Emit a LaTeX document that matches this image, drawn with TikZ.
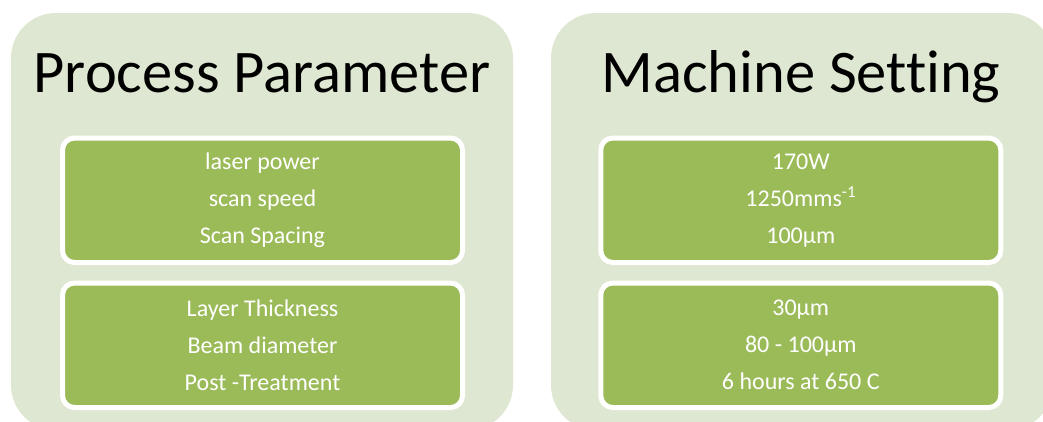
\documentclass[tikz,border=0pt]{standalone}
\usepackage{fontspec}
\setmainfont[Ligatures=CommonOff]{Carlito}
\definecolor{panelgreen}{HTML}{DEE7D1}
\definecolor{boxgreen}{HTML}{9BBB59}
\begin{document}
\begin{tikzpicture}[x=1pt,y=-1pt,
  panel/.style={fill=panelgreen, draw=none, rounded corners=45pt,
    minimum width=502pt, minimum height=417pt, inner sep=0pt},
  title/.style={anchor=base, font=\fontsize{60.5}{60}\selectfont, text=black, inner sep=0pt},
  itembox/.style={fill=boxgreen, draw=white, line width=5pt, rounded corners=12pt,
    minimum width=400pt, minimum height=124.5pt, inner sep=0pt,
    text=white, align=center, font=\fontsize{24}{37}\selectfont}]
\useasboundingbox (0,0) rectangle (1043,421);
\clip (0,0) rectangle (1043,421);

% background panels
\node[panel] (left)  at (262,221.5) {};
\node[panel] (right) at (802,221.5) {};

% panel headings
\node[title] (lt) at (262,92) {Process Parameter};
\node[title] (rt) at (801,92) {Machine Setting};

% parameter boxes
\node[itembox] (p1) at (262.5,200.25) {laser power\\scan speed\\Scan Spacing};
\node[itembox] (p2) at (262.5,345.25) {Layer Thickness\\Beam diameter\\Post -Treatment};

% setting boxes
\node[itembox] (s1) at (800.75,200.25) {170W\\1250mms\textsuperscript{-1}\\100µm};
\node[itembox] (s2) at (800.75,345.25) {30µm\\80 - 100µm\\6 hours at 650 C};
\end{tikzpicture}
\end{document}
